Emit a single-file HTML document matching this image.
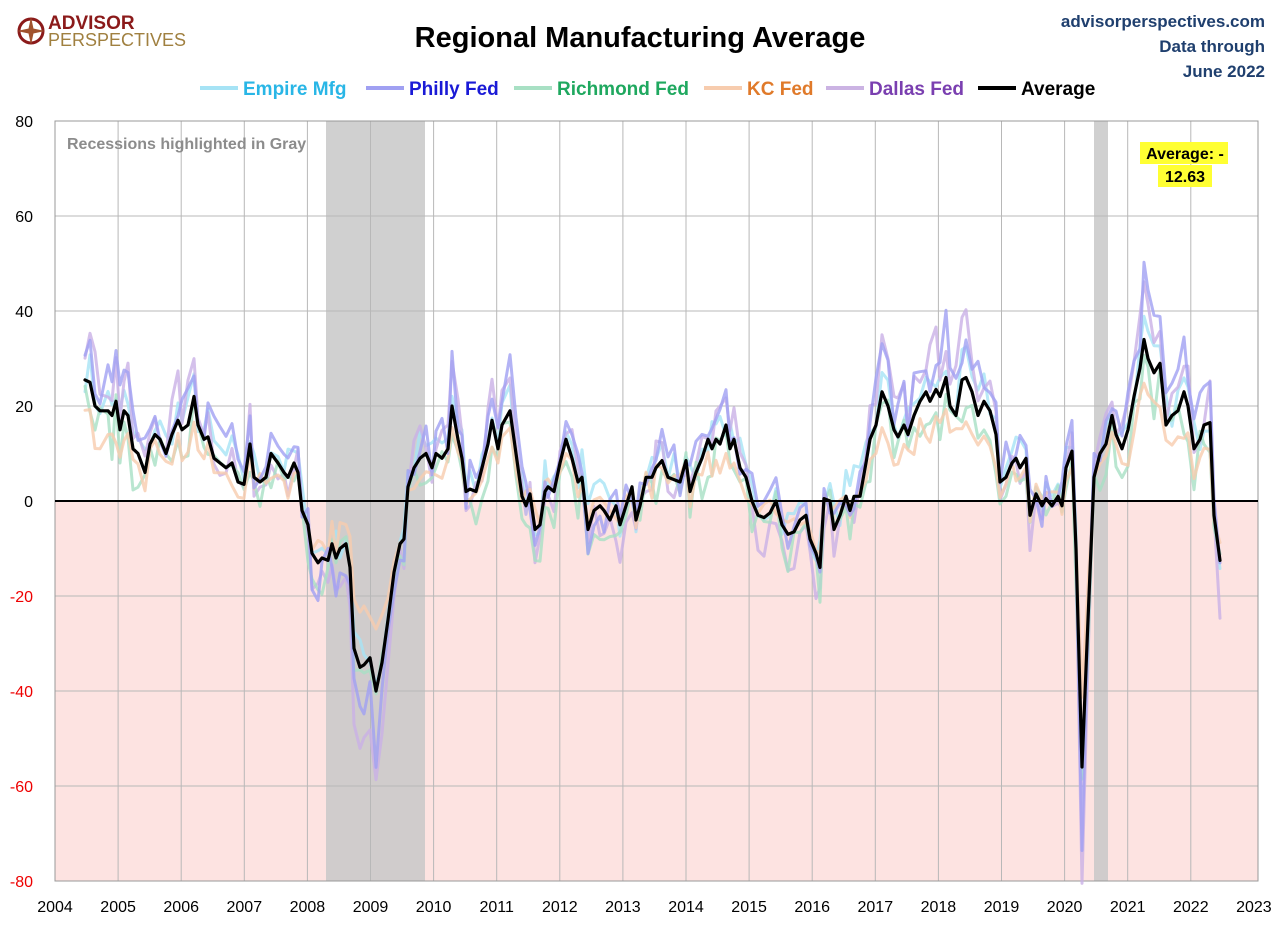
<!DOCTYPE html>
<html><head><meta charset="utf-8"><style>
body{margin:0;background:#fff;font-family:"Liberation Sans",sans-serif}
svg text{font-family:"Liberation Sans",sans-serif}
</style></head><body>
<svg id="s" width="1280" height="930" xmlns="http://www.w3.org/2000/svg">
<rect width="1280" height="930" fill="#fff"/>
<rect x="55" y="501" width="1203" height="380" fill="#fde3e1"/>
<rect x="326" y="121" width="99" height="760" fill="#c8c8c8" opacity="0.85"/>
<rect x="1094" y="121" width="14" height="760" fill="#c8c8c8" opacity="0.85"/>
<g id="grid" stroke="#b8b8b8" stroke-width="1"></g>
<rect x="55" y="121" width="1203" height="760" fill="none" stroke="#999"/>
<g id="series" fill="none" stroke-linejoin="round" stroke-linecap="round"></g>
<line x1="55" y1="501" x2="1258" y2="501" stroke="#000" stroke-width="2"/>
<g id="labels" font-size="16"></g>
<text x="67" y="149" font-size="16" font-weight="bold" fill="#8c8c8c">Recessions highlighted in Gray</text>
<rect x="1140" y="142" width="88" height="22" fill="#ffff33"/>
<rect x="1158" y="165" width="54" height="22" fill="#ffff33"/>
<text x="1185" y="159" font-size="16" font-weight="bold" text-anchor="middle">Average: -</text>
<text x="1185" y="182" font-size="16" font-weight="bold" text-anchor="middle">12.63</text>
<text x="640" y="47" font-size="29" font-weight="bold" text-anchor="middle">Regional Manufacturing Average</text>
<text x="1265" y="27" font-size="17" font-weight="bold" fill="#1f3f6e" text-anchor="end">advisorperspectives.com</text>
<text x="1265" y="52" font-size="17" font-weight="bold" fill="#1f3f6e" text-anchor="end">Data through</text>
<text x="1265" y="77" font-size="17" font-weight="bold" fill="#1f3f6e" text-anchor="end">June 2022</text>
<g font-size="19" font-weight="bold">
<line x1="200" y1="88" x2="238" y2="88" stroke="#a6e3f5" stroke-width="4"/><text x="243" y="95" fill="#29b6e6">Empire Mfg</text>
<line x1="366" y1="88" x2="404" y2="88" stroke="#a0a0f2" stroke-width="4"/><text x="409" y="95" fill="#1a1ad6">Philly Fed</text>
<line x1="514" y1="88" x2="552" y2="88" stroke="#a8e0c4" stroke-width="4"/><text x="557" y="95" fill="#1fa85f">Richmond Fed</text>
<line x1="704" y1="88" x2="742" y2="88" stroke="#f7ccae" stroke-width="4"/><text x="747" y="95" fill="#e07a2a">KC Fed</text>
<line x1="826" y1="88" x2="864" y2="88" stroke="#cbb3e3" stroke-width="4"/><text x="869" y="95" fill="#7a3fb0">Dallas Fed</text>
<line x1="978" y1="88" x2="1016" y2="88" stroke="#000" stroke-width="4"/><text x="1021" y="95" fill="#000">Average</text>
</g>
<circle cx="31" cy="31" r="12" fill="none" stroke="#8b1a1a" stroke-width="3"/>
<path d="M31 17 L34 31 L31 45 L28 31Z M17 31 L31 28 L45 31 L31 34Z" fill="#a0522d"/>
<text x="48" y="29" font-size="19" font-weight="bold" fill="#8b1a1a">ADVISOR</text>
<text x="48" y="46" font-size="18" fill="#a08040">PERSPECTIVES</text>
</svg>
<script>
var ns="http://www.w3.org/2000/svg";
function el(p,t,a,txt){var e=document.createElementNS(ns,t);for(var k in a)e.setAttribute(k,a[k]);if(txt!=null)e.textContent=txt;p.appendChild(e);return e;}
var Y=function(v){return 501-v*4.75;};
var g=document.getElementById('grid'),L=document.getElementById('labels');
for(var i=0;i<=19;i++){var x=55+i*63.1;if(i>0&&i<19)el(g,'line',{x1:x,y1:121,x2:x,y2:881});el(L,'text',{x:x,y:912,'text-anchor':'middle'},2004+i);}
for(var v=-80;v<=80;v+=20){var y=Y(v);if(v!=0&&v!=80&&v!=-80)el(g,'line',{x1:55,y1:y,x2:1258,y2:y});el(L,'text',{x:33,y:y+6,'text-anchor':'end',fill:v<0?'#e00':'#000'},v);}
var P=[85,25.5,90,25,95,20,100,19,108,19,112,18,116,21,120,15,124,19,128,18,133,11,138,10,145,6,150,12,155,14,160,13,166,10,172,14,178,17,182,15,188,16,194,22,198,16,204,13,208,13.5,214,9,220,8,226,7,232,8,238,4,244,3.5,250,12,254,5,260,4,266,5,271,10,278,8,284,6,288,5,294,8,298,6,302,-2,308,-5,312,-11,318,-13,322,-12,328,-12.5,332,-9,336,-12,340,-10,346,-9,350,-14,354,-31,360,-35,364,-34.5,370,-33,376,-40,382,-34,388,-25,394,-15,400,-9,404,-8,408,3,414,7,420,9,426,10,432,7,436,10,442,9,448,11,452,20,458,13,462,9,466,2,470,2.5,476,2,482,7,488,12,492,17,498,11,502,16,510,19,516,10,522,1,526,-1,530,1.5,535,-6,540,-5,545,2,548,3,554,2,560,8,566,13,572,9,578,4,582,5,588,-6,594,-2,600,-1,604,-2,610,-4,616,-1,620,-5,626,-1,632,3,636,-4,640,-1,646,5,652,5,656,7,662,8.5,668,5,674,4.5,680,4,686,8.5,690,2,696,6,702,9,708,13,712,11,716,13,720,12,726,16,730,11,734,13,740,7,746,5,752,0,758,-3,764,-3.5,770,-2.5,776,0,782,-5,788,-7,794,-6.5,800,-4,806,-3,810,-8,816,-11,820,-14,824,0.5,830,0,834,-6,840,-3,846,1,850,-2,854,1,860,1,866,8,870,13,876,16,882,23,888,20,894,15,898,13.5,904,16,908,14,914,18,920,21,926,23,930,21,936,23.5,940,22,946,26,950,20,956,18,962,25.5,966,26,972,23,978,18,984,21,990,19,996,14,1000,4,1006,5,1012,8,1016,9,1020,7,1026,9,1030,-3,1036,1.5,1042,-1,1046,0.5,1052,-1,1058,1,1062,-1,1066,7,1072,10.5,1076,-10,1082,-56,1088,-25,1094,5,1100,10,1106,12,1112,18,1116,14,1122,11,1128,15,1134,22,1140,28,1144,34,1148,30,1154,27,1160,29,1166,16,1172,18,1178,19,1184,23,1188,20,1194,11,1200,13,1204,16,1210,16.5,1214,-3,1220,-12.5];
var seed=7;function rnd(){seed=(seed*16807)%2147483647;return seed/2147483647-0.5;}
var S=document.getElementById('series');
var cfg=[['#a6e3f5',1.0,2,9],['#c9b0e6',1.45,-2,10],['#a8e0c4',0.95,-3,11],['#f7ccae',0.7,0,6],['#a0a0f2',1.3,1,11]];
cfg.forEach(function(c){var d='';for(var i=0;i<P.length;i+=2){var v=P[i+1]*c[1]+c[2]+rnd()*c[3];d+=(i?'L':'M')+P[i]+' '+Y(v).toFixed(1);}
el(S,'path',{d:d,stroke:c[0],'stroke-width':3,opacity:0.8});});
var d='';for(var i=0;i<P.length;i+=2)d+=(i?'L':'M')+P[i]+' '+Y(P[i+1]).toFixed(1);
el(S,'path',{d:d,stroke:'#000','stroke-width':3.2});
</script>
</body></html>
